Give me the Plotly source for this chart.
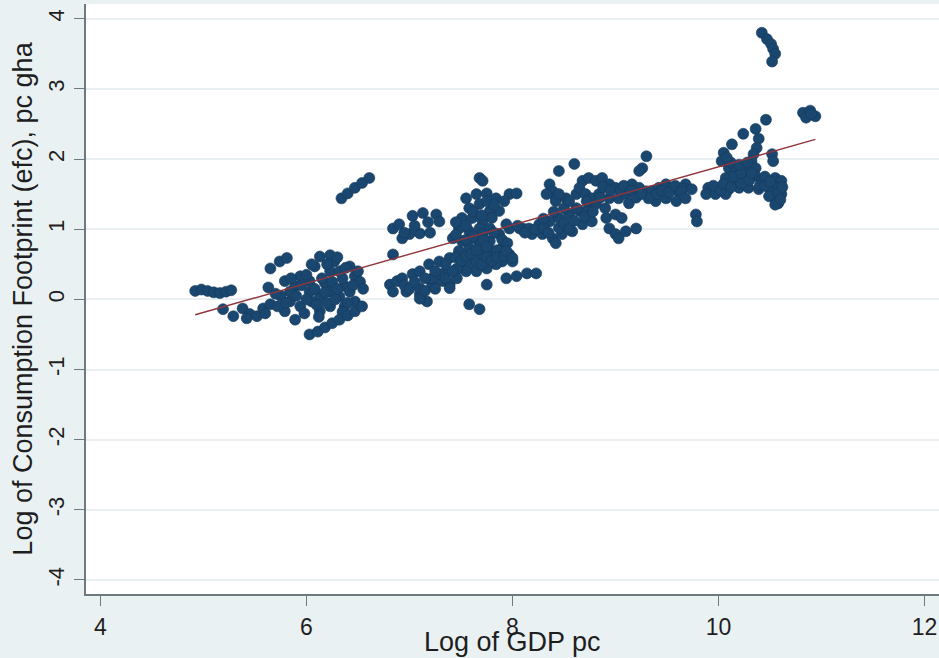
import plotly.graph_objects as go

# ---- data (log GDP pc, log consumption footprint) ----
x_low = [4.92, 4.98, 5.04, 5.10, 5.16, 5.22, 5.27,
         5.19, 5.29, 5.38, 5.45, 5.52, 5.58, 5.65, 5.42, 5.60,
         5.65, 5.74, 5.81, 5.63]
y_low = [0.12, 0.14, 0.12, 0.10, 0.09, 0.11, 0.13,
         -0.14, -0.24, -0.13, -0.21, -0.24, -0.13, -0.07, -0.27, -0.20,
         0.44, 0.54, 0.59, 0.17]

x_six = [5.79, 5.89, 5.94, 6.03, 5.84, 5.94, 6.05, 6.13, 6.18, 6.23, 6.08, 6.13, 6.27, 6.32,
         6.37, 6.32, 6.23, 6.13, 5.98, 5.89, 6.42, 6.47, 6.42, 6.23, 6.03, 5.84, 5.79, 5.72,
         6.23, 6.30, 6.47, 6.37, 6.52, 6.55,
         5.75, 5.85, 5.90, 5.95, 6.00, 6.00, 6.08, 6.10, 6.15, 6.18, 6.20, 6.25, 6.28, 6.30,
         6.35, 6.38, 6.40, 6.45, 6.50, 6.35, 5.70, 5.80, 6.05, 6.20, 6.12,
         6.03, 6.11, 6.18, 6.25, 6.32, 6.40, 6.47, 6.54,
         6.34, 6.40, 6.47, 6.54, 6.61]
y_six = [0.26, 0.19, 0.33, 0.11, -0.03, -0.10, -0.03, 0.04, 0.23, 0.40, 0.47, 0.61, 0.54, 0.40,
         0.19, 0.04, -0.10, -0.17, -0.20, -0.29, 0.11, 0.33, 0.47, 0.11, 0.26, 0.11, -0.17, -0.10,
         0.63, 0.60, -0.03, -0.10, 0.25, 0.15,
         0.05, 0.30, 0.05, 0.20, 0.00, 0.35, 0.15, -0.08, 0.30, 0.10, -0.05, 0.25, 0.00, 0.15,
         0.30, 0.45, -0.05, 0.20, 0.40, -0.18, 0.08, -0.05, 0.50, 0.50, -0.25,
         -0.50, -0.46, -0.40, -0.34, -0.29, -0.23, -0.17, -0.10,
         1.44, 1.51, 1.59, 1.66, 1.73]

x_seven = [7.68, 7.71,
           6.84, 6.90, 7.03, 7.13, 7.26, 7.29, 7.00, 7.10, 6.93, 6.84,
           6.81, 6.88, 6.93, 7.03, 7.10, 7.19, 7.29, 7.39, 7.48, 7.58, 7.68, 7.78, 7.87, 7.97,
           6.84, 6.97, 7.10, 7.17, 7.10, 7.22, 7.32, 7.39, 7.46, 7.51, 7.58, 7.65, 7.71, 7.80,
           7.90, 7.97, 8.00, 7.90, 7.84, 7.75, 7.65, 7.55, 7.46, 7.36, 7.29, 7.22,
           7.55, 7.65, 7.75, 7.84, 7.97, 8.04, 7.58, 7.68, 7.78, 7.87, 7.51, 7.61, 7.71, 7.80,
           7.48, 7.58, 7.68, 7.78, 7.42, 7.51, 7.61, 7.71,
           7.10, 7.39, 7.75, 7.58, 7.68,
           7.94, 8.04, 8.14, 8.23, 7.94, 8.10, 8.19, 8.29,
           6.95, 7.00, 7.05, 7.15, 7.15, 7.25, 7.25, 7.35, 7.35, 7.42, 7.45, 7.50, 7.55, 7.55,
           7.60, 7.62, 7.65, 7.70, 7.72, 7.75, 7.75, 7.80, 7.82, 7.85, 7.85, 7.90, 7.92, 7.95,
           7.45, 7.55, 7.62, 7.70, 7.75, 7.82, 7.92, 7.45, 7.05, 7.18, 6.95, 7.20]
y_seven = [1.73, 1.69,
           1.01, 1.07, 1.19, 1.23, 1.21, 1.11, 0.93, 0.94, 0.87, 0.64,
           0.21, 0.26, 0.30, 0.36, 0.40, 0.50, 0.54, 0.59, 0.69, 0.73, 0.79, 0.83, 0.93, 1.01,
           0.11, 0.11, 0.07, -0.03, 0.16, 0.21, 0.26, 0.21, 0.30, 0.44, 0.50, 0.54, 0.64, 0.69,
           0.73, 0.64, 0.54, 0.54, 0.50, 0.44, 0.40, 0.40, 0.44, 0.40, 0.36, 0.30,
           1.44, 1.50, 1.51, 1.44, 1.50, 1.51, 1.30, 1.36, 1.26, 1.26, 1.16, 1.16, 1.11, 1.16,
           1.01, 0.97, 1.01, 1.01, 0.87, 0.83, 0.87, 0.93,
           0.01, 0.16, 0.21, -0.07, -0.14,
           0.30, 0.33, 0.37, 0.37, 1.07, 1.01, 0.97, 1.01,
           0.20, 0.15, 0.25, 0.30, 0.12, 0.40, 0.15, 0.30, 0.50, 0.40, 0.60, 0.55, 0.62, 0.85,
           0.65, 0.90, 0.70, 0.50, 0.85, 0.60, 0.75, 0.55, 0.95, 0.70, 0.60, 0.85, 0.62, 0.80,
           1.10, 1.05, 1.25, 1.20, 1.40, 1.35, 1.40, 0.92, 1.05, 1.10, 0.95, 0.95]

x_eight = [9.30, 9.26, 9.23, 8.45, 8.60, 8.36, 8.39, 8.42,
           8.07, 8.16, 8.26, 8.36, 8.45, 8.55, 8.65, 8.74, 8.81,
           8.19, 8.29, 8.39, 8.48, 8.58, 8.68, 8.77, 8.42,
           8.33, 8.42, 8.52, 8.62, 8.68, 8.74, 8.81, 8.87, 8.94, 9.00, 8.65, 8.71, 8.77, 8.84,
           8.94, 9.03, 9.10, 9.13, 9.16, 9.23, 9.30, 9.35, 9.42, 9.49, 9.55, 9.61, 9.68, 9.39,
           9.49, 9.59, 9.32,
           8.91, 9.00, 9.06, 8.94, 9.00, 9.10, 9.20, 9.03,
           7.94, 8.00, 9.78, 9.79,
           8.05, 8.12, 8.22, 8.30, 8.35, 8.45, 8.50, 8.55, 8.60, 8.62, 8.70, 8.72, 8.78, 8.85,
           8.88, 8.90, 8.95, 9.05, 9.08, 9.15, 9.20, 9.25, 9.40, 9.45, 9.52, 9.58, 9.65, 8.50,
           8.55, 8.45, 8.40, 8.30]
y_eight = [2.04, 1.87, 1.83, 1.83, 1.93, 1.64, 1.54, 1.44,
           1.01, 1.01, 1.07, 1.11, 1.16, 1.21, 1.26, 1.30, 1.36,
           0.93, 0.93, 0.87, 0.93, 0.97, 1.07, 1.11, 0.80,
           1.50, 1.40, 1.44, 1.50, 1.69, 1.73, 1.69, 1.73, 1.64, 1.59, 1.59, 1.50, 1.44, 1.50,
           1.44, 1.44, 1.50, 1.37, 1.64, 1.59, 1.54, 1.54, 1.59, 1.64, 1.59, 1.54, 1.64, 1.40,
           1.44, 1.40, 1.44,
           1.16, 1.21, 1.16, 1.01, 0.93, 0.97, 1.01, 0.87,
           0.69, 0.59, 1.21, 1.11,
           1.05, 0.95, 1.00, 1.02, 0.95, 1.02, 1.08, 1.00, 1.12, 1.30, 1.18, 1.40, 1.25, 1.45,
           1.60, 1.30, 1.55, 1.55, 1.62, 1.55, 1.45, 1.50, 1.50, 1.55, 1.52, 1.62, 1.58, 1.30,
           1.40, 1.50, 1.25, 1.15]

x_ten = [10.42, 10.47, 10.51, 10.53, 10.55, 10.52,
         10.82, 10.89, 10.94, 10.85, 10.90,
         10.46, 10.36, 10.24, 10.13, 10.05, 10.03, 10.39, 10.37, 10.34, 10.32,
         10.52, 10.53,
         10.10, 10.17, 10.26, 10.36, 10.07, 10.17, 10.26, 10.36, 10.42, 10.00, 10.10, 10.20,
         10.29, 10.39, 9.90, 9.88, 9.97, 10.07, 10.49, 10.55, 10.61, 10.58, 10.61, 10.55,
         10.58, 10.49, 9.64, 9.68,
         9.95, 10.02, 10.05, 10.12, 10.15, 10.22, 10.22, 10.30, 10.32, 10.40, 10.45, 10.45,
         10.50, 10.58, 10.62, 10.55, 10.60, 10.12, 10.20, 10.28, 10.08, 9.74]
y_ten = [3.80, 3.71, 3.64, 3.57, 3.50, 3.39,
         2.66, 2.69, 2.61, 2.59, 2.64,
         2.56, 2.43, 2.36, 2.21, 2.09, 1.97, 2.29, 2.16, 2.07, 1.97,
         2.07, 1.97,
         1.87, 1.83, 1.87, 1.87, 1.73, 1.69, 1.73, 1.76, 1.69, 1.59, 1.57, 1.59,
         1.59, 1.57, 1.59, 1.50, 1.50, 1.50, 1.59, 1.73, 1.69, 1.59, 1.50, 1.43,
         1.37, 1.47, 1.54, 1.44,
         1.62, 1.55, 1.65, 1.60, 1.75, 1.65, 1.80, 1.70, 1.80, 1.62, 1.75, 1.62,
         1.68, 1.52, 1.60, 1.35, 1.42, 1.95, 1.92, 1.95, 2.02, 1.57]

# fitted line end points
fit_x = [4.92, 10.94]
fit_y = [-0.22, 2.28]

x_ticks = [4, 6, 8, 10, 12]
y_ticks = [-4, -3, -2, -1, 0, 1, 2, 3, 4]
y_tick_text = ["-4", "-3", "-2", "-1", "0", "1", "2", "3", "4"]
x_title = "Log of GDP pc"
y_title = "Log of Consumption Footprint (efc), pc gha"

gdp = x_low + x_six + x_seven + x_eight + x_ten
efc = y_low + y_six + y_seven + y_eight + y_ten

navy = "#1a476f"
fig = go.Figure()
fig.add_trace(go.Scatter(x=gdp, y=efc, mode="markers",
                         marker=dict(size=11, color=navy,
                                     line=dict(width=0.6, color="#16395a")),
                         showlegend=False))
fig.add_trace(go.Scatter(x=fit_x, y=fit_y, mode="lines",
                         line=dict(color="#90353b", width=1.4),
                         showlegend=False))

font = "Liberation Sans, Arial, sans-serif"
fig.update_layout(
    width=939, height=658,
    margin=dict(l=86, r=0, t=4, b=64),
    paper_bgcolor="#eaf1f3",
    plot_bgcolor="#ffffff",
    font=dict(family=font, color="#1e1e1e"),
    xaxis=dict(range=[3.86, 12.14], tickvals=x_ticks, showgrid=False, zeroline=False,
               automargin=False,
               showline=True, linecolor="#6f7a80", linewidth=1.5,
               ticks="outside", ticklen=10, tickcolor="#6f7a80", tickwidth=1.2,
               ticklabelstandoff=2,
               tickfont=dict(size=23, family=font)),
    yaxis=dict(range=[-4.2, 4.21], tickvals=y_ticks, ticktext=y_tick_text, tickangle=-90,
               automargin=False,
               showgrid=True, gridcolor="#eaf0f2", gridwidth=1.5, zeroline=False,
               showline=True, linecolor="#6f7a80", linewidth=1.5,
               ticks="outside", ticklen=10, tickcolor="#6f7a80", tickwidth=1.2,
               ticklabelstandoff=1,
               tickfont=dict(size=22, family=font),
               title=dict(text=y_title, font=dict(size=27, family=font), standoff=4)),
    annotations=[dict(text=x_title, xref="paper", yref="paper", x=0.5, y=0,
                      xanchor="center", yanchor="middle", yshift=-48, showarrow=False,
                      font=dict(size=27, family=font, color="#1e1e1e"))],
)

fig.write_html("out.html", config={"displayModeBar": False},
               post_script="document.body.style.margin='0';document.body.style.overflow='hidden';")
